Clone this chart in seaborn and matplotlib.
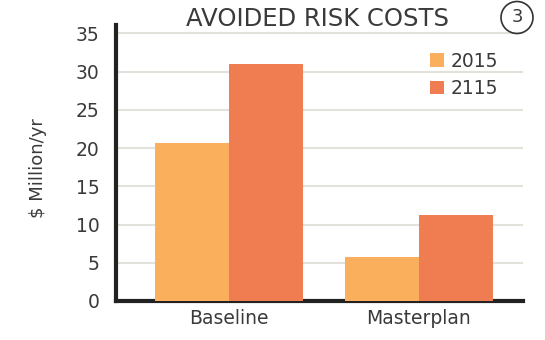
import matplotlib
matplotlib.use("Agg")
import matplotlib.pyplot as plt
import seaborn as sns
import pandas as pd
from matplotlib.patches import Circle

categories = ["Baseline", "Masterplan"]
years = ["2015", "2115"]
values_2015 = [20.7, 5.8]
values_2115 = [31.0, 11.3]
yticks = [0, 5, 10, 15, 20, 25, 30, 35]

df = pd.DataFrame({
    "scenario": categories * 2,
    "year": [years[0]] * 2 + [years[1]] * 2,
    "value": values_2015 + values_2115,
})

sns.set_theme(style="white")
plt.rcParams["font.family"] = ["DejaVu Sans"]

TXT = "#3a3a3a"
FS = 13.5
fig = plt.figure(figsize=(5.45, 3.4), dpi=100)
ax = fig.add_axes([116 / 545, 1 - 301 / 340, (523 - 116) / 545, (301 - 25) / 340])

palette = {"2015": "#F9AF5C", "2115": "#F07C52"}
sns.barplot(data=df, x="scenario", y="value", hue="year", palette=palette,
            width=0.78, saturation=1, ax=ax, zorder=3, linewidth=0)

ax.set_ylim(0, 36.1)
ax.set_xlim(-0.593, 1.549)
ax.set_yticks(yticks)
ax.set_yticklabels([str(t) for t in yticks], fontsize=FS, color=TXT)
ax.tick_params(axis="x", labelsize=FS, colors=TXT, length=0, pad=6)
ax.tick_params(axis="y", length=0, pad=12)
ax.yaxis.grid(True, color="#e2e2da", linewidth=1.5, zorder=0)
ax.set_axisbelow(True)
for s in ["top", "right"]:
    ax.spines[s].set_visible(False)
for s in ["left", "bottom"]:
    ax.spines[s].set_color("#222222")
    ax.spines[s].set_linewidth(3)
ax.set_xlabel("")
ax.set_ylabel("$ Million/yr", fontsize=FS - 0.5, color=TXT)
ax.yaxis.set_label_coords(-0.17, 0.48)

leg = ax.legend(loc="upper right", bbox_to_anchor=(0.98, 0.965), frameon=False,
                fontsize=FS, handlelength=0.75, handleheight=0.75, handletextpad=0.35,
                labelspacing=0.45)
for t in leg.get_texts():
    t.set_color(TXT)

fig.text(318 / 545, 1 - 19 / 340, "AVOIDED RISK COSTS", ha="center", va="center",
         fontsize=17.5, color=TXT)
fig.text(517 / 545, 1 - 17 / 340, "3", ha="center", va="center", fontsize=13,
         color=TXT)
circ = Circle((5.17, 3.4 - 0.175), 0.16, transform=fig.dpi_scale_trans,
              fill=False, edgecolor="#333333", linewidth=1.2)
fig.patches.append(circ)

fig.savefig("out.png", dpi=100)
